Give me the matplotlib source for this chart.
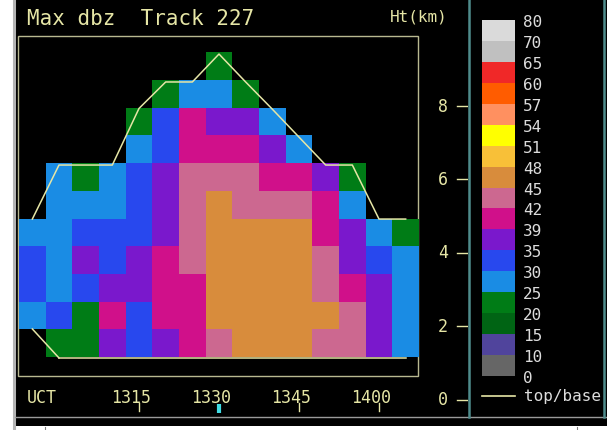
import numpy as np
import matplotlib
matplotlib.use("Agg")
import matplotlib.pyplot as plt
from matplotlib.colors import ListedColormap, BoundaryNorm
from matplotlib.patches import Rectangle

plt.rcParams['font.family'] = ['DejaVu Sans Mono', 'DejaVu Sans']

# -------------------------------------------------------
# Data
# -------------------------------------------------------

# reflectivity classes (dBZ), bottom to top of the legend
dbz_levels = [0, 10, 15, 20, 25, 30, 35, 39, 42, 45, 48, 51, 54, 57, 60, 65, 70, 80]
dbz_colors = ['#666666', '#50449c', '#006414', '#007c16', '#1a8ce4', '#2848ee',
              '#7a18cc', '#d0108a', '#cc6890', '#d88c3c', '#f8c038', '#ffff00',
              '#ff9060', '#ff5c00', '#f02828', '#c0c0c0', '#dadada']

# one column per volume scan (UCT, hhmm)
scan_times = [1255, 1300, 1305, 1310, 1315, 1320, 1325, 1330,
              1335, 1340, 1345, 1350, 1355, 1400, 1405]

# max dBZ per layer, top layer first ('.' = no echo)
cell_codes = {'G': 20, 'S': 25, 'B': 30, 'U': 35, 'M': 39, 'P': 42, 'O': 45}
max_dbz_rows = [
    ".......G.......",
    ".....GSSG......",
    "....GBMUUS.....",
    "....SBMMMUS....",
    ".SGSBUPPPMMUG..",
    ".SSSBUPOPPPMS..",
    "SSBBBUPOOOOMUSG",
    "BSUBUMPOOOOPUBS",
    "BSBUUMMOOOOPMUS",
    "SBGMBMMOOOOOPUS",
    ".GGUBUMPOOOPPUS",
]

# echo top / base per scan (km)
echo_top_km = [4.91, 6.38, 6.38, 6.38, 7.92, 8.64, 8.64, 9.40,
               8.64, 7.90, 7.14, 6.38, 6.38, 4.91, 4.91]
echo_base_km = [1.92, 1.13, 1.13, 1.13, 1.13, 1.13, 1.13, 1.13,
                1.13, 1.13, 1.13, 1.13, 1.13, 1.13, 1.13]

layer_bottom_km = 1.15
layer_depth_km = 0.755

time_ticks = [1315, 1330, 1345, 1400]
current_time = 1330
height_ticks = [0, 2, 4, 6, 8]

# -------------------------------------------------------
# Screen layout (pixels)
# -------------------------------------------------------

W, H = 607, 431
PX_PER_MIN = 80 / 15
PX_PER_KM = 36.75
X_REF_PX, X_REF_MIN = 139, 15     # 13:15 tick
Y_ZERO_PX = 400.5                 # 0 km

TEXT_YEL = '#e6e6a6'
TEXT_GRY = '#dcdcdc'
TEAL = '#4f8c8c'


def to_minutes(hhmm):
    return (hhmm // 100) * 60 + hhmm % 100 - 13 * 60


def px_to_min(px):
    return X_REF_MIN + (px - X_REF_PX) / PX_PER_MIN


def px_to_km(py):
    return (Y_ZERO_PX - py) / PX_PER_KM


fig = plt.figure(figsize=(W / 100, H / 100), dpi=100, facecolor='white')

# background / window chrome in pixel coordinates
bg = fig.add_axes([0, 0, 1, 1])
bg.set_xlim(0, W)
bg.set_ylim(H, 0)
bg.axis('off')
bg.add_patch(Rectangle((15, 0), W - 15, 427, color='black', lw=0))
bg.plot([13.5, 13.5], [0, H], color='#b4b4b4', lw=2.2)
bg.plot([15, W], [418.5, 418.5], color='#9a9a9a', lw=1)
bg.plot([469, 469], [0, 418], color=TEAL, lw=1.8)
bg.plot([603.5, 603.5], [0, 418], color=TEAL, lw=1.8)
bg.plot([45, 45], [428, H], color='#808080', lw=0.8)
bg.plot([577, 577], [428, H], color='#808080', lw=0.8)
bg.add_patch(Rectangle((18, 37), 400, 340, fill=False, ec='#b8b890', lw=1))

bg.text(27, 19, "Max dbz  Track 227", color=TEXT_YEL, fontsize=15,
        va='center', ha='left')
bg.text(390, 17, "Ht(km)", color=TEXT_YEL, fontsize=11.5, va='center', ha='left')
bg.text(27, 398, "UCT", color=TEXT_YEL, fontsize=12, va='center', ha='left')

# top/base legend entry
bg.plot([482, 515], [397.5, 397.5], color=TEXT_YEL, lw=1.2)
bg.text(524, 397, "top/base", color=TEXT_GRY, fontsize=11.5, va='center', ha='left')

# -------------------------------------------------------
# Height-time grid of max reflectivity
# -------------------------------------------------------

ax = fig.add_axes([15 / W, (H - 418) / H, (468 - 15) / W, 418 / H])
ax.set_facecolor('none')
ax.set_xlim(px_to_min(15), px_to_min(468))
ax.set_ylim(px_to_km(418), px_to_km(0))
ax.axis('off')

t_centers = np.array([to_minutes(t) for t in scan_times], dtype=float)
t_edges = np.append(t_centers - 2.5, t_centers[-1] + 2.5)
n_layers = len(max_dbz_rows)
z_edges = layer_bottom_km + layer_depth_km * np.arange(n_layers + 1)

grid = np.array([[cell_codes.get(c, np.nan) for c in row] for row in max_dbz_rows[::-1]])
grid = np.ma.masked_invalid(grid)

cmap = ListedColormap(dbz_colors)
norm = BoundaryNorm(dbz_levels, cmap.N)
mesh = ax.pcolormesh(t_edges, z_edges, grid, cmap=cmap, norm=norm, shading='flat')

# echo top and base outline
ax.plot(t_centers, echo_top_km, color=TEXT_YEL, lw=1.1)
ax.plot(t_centers[1:], echo_base_km[1:], color=TEXT_YEL, lw=1.1)
ax.plot([t_centers[0], t_centers[1]], [echo_base_km[0], echo_base_km[1]],
        color=TEXT_YEL, lw=1.1)

# height axis (right side)
for h in height_ticks:
    ax.plot([px_to_min(457), px_to_min(468)], [h, h], color=TEXT_YEL, lw=1)
    ax.text(px_to_min(443), h, str(h), color=TEXT_YEL, fontsize=12,
            ha='center', va='center')

# time axis (bottom)
for t in time_ticks:
    tm = to_minutes(t)
    ax.text(tm - 8 / PX_PER_MIN, px_to_km(398), str(t), color=TEXT_YEL,
            fontsize=12, ha='center', va='center')
    if t == current_time:
        ax.plot([tm, tm], [px_to_km(405), px_to_km(414)], color='#40dce4', lw=3,
                solid_capstyle='butt')
    else:
        ax.plot([tm, tm], [px_to_km(404), px_to_km(412)], color=TEXT_YEL, lw=1)

# -------------------------------------------------------
# dBZ legend
# -------------------------------------------------------

cax = fig.add_axes([482 / W, (H - 377) / H, 33 / W, 356 / H])
cb = fig.colorbar(mesh, cax=cax, spacing='uniform', ticks=dbz_levels)
cb.outline.set_visible(False)
cax.set_yticklabels([str(v) for v in dbz_levels])
cax.tick_params(length=0, pad=6, labelsize=11.5, labelcolor=TEXT_GRY)

fig.savefig("out.png", dpi=100, facecolor=fig.get_facecolor())
